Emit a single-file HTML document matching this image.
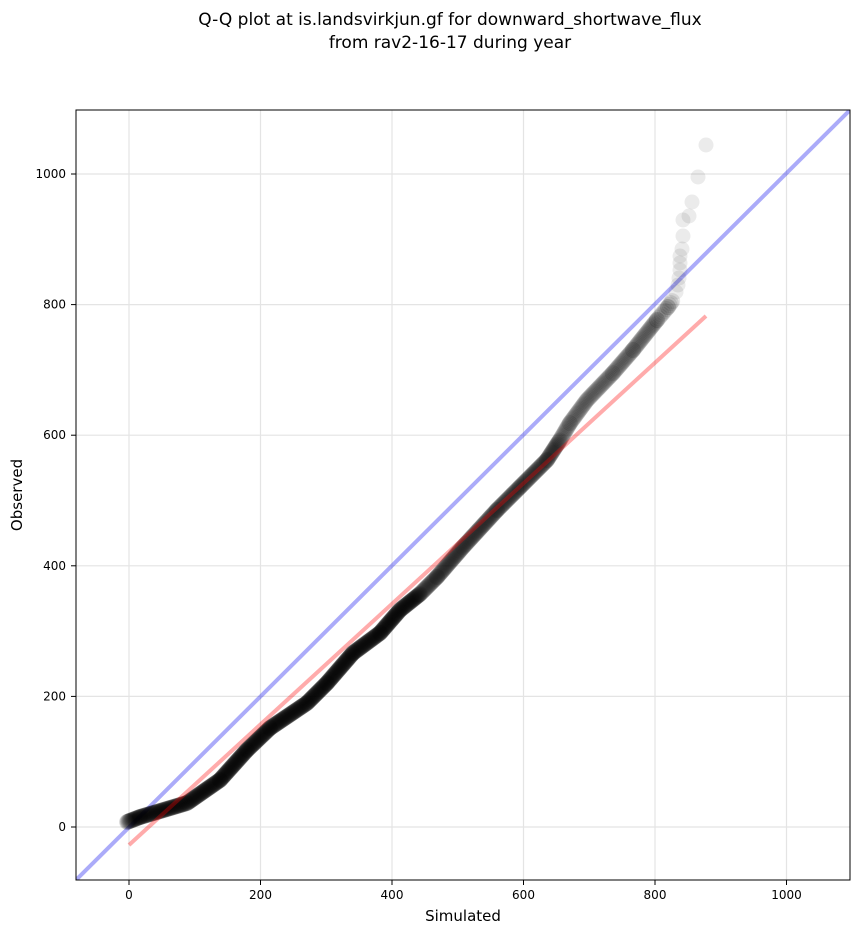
<!DOCTYPE html>
<html><head><meta charset="utf-8"><style>
body{margin:0;background:#fff;}
svg text{font-family:"DejaVu Sans","Liberation Sans",sans-serif;}
</style></head><body>
<svg id="s" width="860" height="934" xmlns="http://www.w3.org/2000/svg">
<rect width="860" height="934" fill="#fff"/>
<text x="450" y="25" font-size="17" text-anchor="middle">Q-Q plot at is.landsvirkjun.gf for downward_shortwave_flux</text>
<text x="450" y="48" font-size="17" text-anchor="middle">from rav2-16-17 during year</text>
<defs><clipPath id="c"><rect x="76" y="110" width="774" height="770"/></clipPath></defs>
<g id="grid" stroke="#e4e4e4" stroke-width="1.2"></g>
<g clip-path="url(#c)">
<line x1="76" y1="880" x2="850" y2="110" stroke="#0000ee" stroke-opacity="0.33" stroke-width="4"/>
<g id="pts"></g>
<line x1="129" y1="845" x2="706" y2="316" stroke="#ff0000" stroke-opacity="0.33" stroke-width="4"/>
</g>
<rect x="76" y="110" width="774" height="770" fill="none" stroke="#000" stroke-width="1"/>
<g id="ticks" font-size="12"></g>
<text x="463" y="921" font-size="15" text-anchor="middle">Simulated</text>
<text x="22" y="495" font-size="15" text-anchor="middle" transform="rotate(-90 22 495)">Observed</text>
</svg>
<script>
const X=v=>129+v*0.6575, Y=v=>827-v*0.653, NS="http://www.w3.org/2000/svg";
function el(p,t,a,txt){const e=document.createElementNS(NS,t);for(const k in a)e.setAttribute(k,a[k]);if(txt!=null)e.textContent=txt;p.appendChild(e);return e;}
const g=document.getElementById('grid'),tk=document.getElementById('ticks');
for(let v=0;v<=1000;v+=200){
 el(g,'line',{x1:X(v),x2:X(v),y1:110,y2:880});
 el(g,'line',{x1:76,x2:850,y1:Y(v),y2:Y(v)});
 el(tk,'line',{x1:X(v),x2:X(v),y1:880,y2:885,stroke:'#000'});
 el(tk,'text',{x:X(v),y:899,'text-anchor':'middle'},v);
 el(tk,'line',{x1:71,x2:76,y1:Y(v),y2:Y(v),stroke:'#000'});
 el(tk,'text',{x:66,y:Y(v)+4,'text-anchor':'end'},v);
}
const K=[[127,822],[140,817],[187,803],[220,780],[247,750],[270,728],[307,703],[327,683],[353,653],[380,633],[400,610],[420,594],[437,577],[463,547],[497,510],[520,487],[547,460],[560,440],[570,423],[587,400],[613,373],[633,350],[657,320],[668,307],[673,300]];
const P=document.getElementById('pts');
for(let i=1;i<K.length;i++){
 const a=K[i-1],b=K[i];const d=Math.hypot(b[0]-a[0],b[1]-a[1]);
 const step = a[0]<420?0.6 : a[0]<560?1.0 : a[0]<640?1.6 : 2.4;
 for(let t=0;t<d;t+=step){
  el(P,'circle',{cx:a[0]+(b[0]-a[0])*t/d,cy:a[1]+(b[1]-a[1])*t/d,r:8,fill:'#000','fill-opacity':0.1});
 }
}
const T=[[676,292],[678,285],[679,278],[680,270],[680,263],[680,256],[682,249],[683,236],[683,220],[689,216],[692,202],[698,177],[706,145]];
T.forEach(p=>el(P,'circle',{cx:p[0],cy:p[1],r:7.5,fill:'#000','fill-opacity':0.08}));
</script>
</body></html>
